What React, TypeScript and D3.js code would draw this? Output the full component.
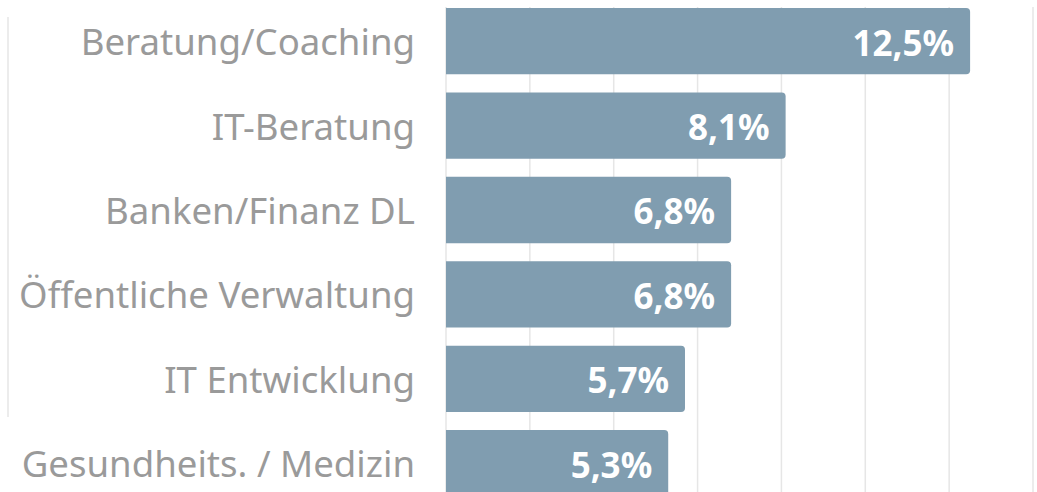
import React from "react";
import * as d3 from "d3";

const categories = [
  "Beratung/Coaching",
  "IT-Beratung",
  "Banken/Finanz DL",
  "Öffentliche Verwaltung",
  "IT Entwicklung",
  "Gesundheits. / Medizin",
];
const values = [12.5, 8.1, 6.8, 6.8, 5.7, 5.3];
const gridTicks = [0, 2, 4, 6, 8, 10, 12, 14];

const W = 1037;
const H = 492;
const FONT = "'Noto Sans', 'Open Sans', sans-serif";

function barPath(x0: number, x1: number, y0: number, h: number, r: number) {
  const p = d3.path();
  p.moveTo(x0, y0);
  p.lineTo(x1 - r, y0);
  p.arcTo(x1, y0, x1, y0 + r, r);
  p.lineTo(x1, y0 + h - r);
  p.arcTo(x1, y0 + h, x1 - r, y0 + h, r);
  p.lineTo(x0, y0 + h);
  p.closePath();
  return p.toString();
}

export default function App() {
  const x = d3.scaleLinear().domain([0, 14]).range([446, 1033]);
  const y = d3
    .scaleBand<string>()
    .domain(categories)
    .range([8 - 9, 8 - 9 + 84.4 * 6])
    .paddingInner(0.215)
    .paddingOuter(0.107);

  return (
    <svg
      width={W}
      height={H}
      style={{ position: "absolute", left: 0, top: 0, background: "#fff" }}
    >
      <line x1={8} x2={8} y1={17} y2={417} stroke="#e6e6e6" strokeWidth={1.5} />
      {gridTicks.map((t) => (
        <line
          key={t}
          x1={x(t)}
          x2={x(t)}
          y1={7}
          y2={H}
          stroke="#e6e6e6"
          strokeWidth={1.5}
        />
      ))}
      {categories.map((c, i) => {
        const y0 = y(c)!;
        const h = y.bandwidth();
        const cy = y0 + h / 2;
        return (
          <g key={c}>
            <path d={barPath(x(0), x(values[i]), y0, h, 4)} fill="#809db0" />
            <text
              x={415}
              y={cy}
              textAnchor="end"
              dominantBaseline="central"
              fill="#9a9a9a"
              fontFamily={FONT}
              fontSize={36.6}
            >
              {c}
            </text>
            <text
              x={x(values[i]) - 16}
              y={cy + 1}
              textAnchor="end"
              dominantBaseline="central"
              fill="#ffffff"
              fontFamily={FONT}
              fontWeight={700}
              fontSize={35}
            >
              {values[i].toFixed(1).replace(".", ",") + "%"}
            </text>
          </g>
        );
      })}
    </svg>
  );
}
